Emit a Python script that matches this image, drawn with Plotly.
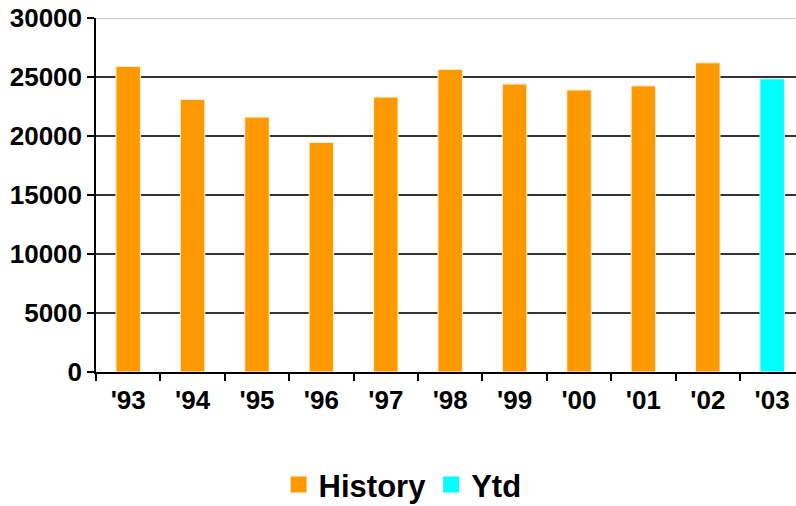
import plotly.graph_objects as go

years = ["'93", "'94", "'95", "'96", "'97", "'98", "'99", "'00", "'01", "'02", "'03"]
history = [25900, 23100, 21600, 19450, 23300, 25650, 24400, 23900, 24250, 26200, None]
ytd = [None, None, None, None, None, None, None, None, None, None, 24850]

ORANGE = "#FF9900"
CYAN = "#00FFFF"
FONT = "Liberation Sans, Arial, sans-serif"

fig = go.Figure()
fig.add_trace(go.Bar(x=years, y=history, name="History", marker_color=ORANGE,
                     marker_line_color="#FFF3DD", marker_line_width=1, width=0.38,
                     showlegend=False))
fig.add_trace(go.Bar(x=years, y=ytd, name="Ytd", marker_color=CYAN,
                     marker_line_color="#E0FFFF", marker_line_width=1, width=0.38,
                     showlegend=False))
# legend entries with larger square symbols
fig.add_trace(go.Scatter(x=[None], y=[None], mode="markers", name="History",
                         marker=dict(symbol="square", size=19, color=ORANGE)))
fig.add_trace(go.Scatter(x=[None], y=[None], mode="markers", name="Ytd",
                         marker=dict(symbol="square", size=19, color=CYAN)))

fig.update_layout(
    width=796, height=506,
    margin=dict(l=96, r=0, t=18, b=134, autoexpand=False),
    plot_bgcolor="white", paper_bgcolor="white",
    barmode="overlay",
    font=dict(family=FONT, color="black", size=26),
    legend=dict(orientation="h", x=0.438, xanchor="center", y=-0.319, yanchor="middle",
                font=dict(size=31, family=FONT, weight="bold"),
                itemsizing="trace", traceorder="normal", itemwidth=30),
    xaxis=dict(type="category", range=[-0.5, 10.37], showline=True, linecolor="black",
               linewidth=1.5, ticks="outside", ticklen=7, tickwidth=1.5, tickcolor="black",
               tickson="boundaries", showgrid=False, automargin=False,
               tickfont=dict(size=26, family=FONT, weight="bold"), ticklabelstandoff=4),
    yaxis=dict(range=[0, 30000], tickvals=[0, 5000, 10000, 15000, 20000, 25000, 30000],
               ticktext=["0", "5000", "10000", "15000", "20000", "25000", "30000"],
               showline=True, linecolor="black", linewidth=1.5,
               ticks="outside", ticklen=7, tickwidth=1.5, tickcolor="black",
               showgrid=True, gridcolor="#333333", gridwidth=1.5, zeroline=False,
               automargin=False, ticklabeloverflow="allow",
               tickfont=dict(size=26, family=FONT, weight="bold"), ticklabelstandoff=0),
    shapes=[dict(type="line", xref="paper", yref="y", x0=0, x1=1, y0=30000, y1=30000,
                 line=dict(color="#C8C8C8", width=2), layer="above")],
)

# remove the default 8px page margin so the figure fills the window exactly
fig.write_html("out.html", config={"displayModeBar": False},
               post_script="document.body.style.margin='0';")
